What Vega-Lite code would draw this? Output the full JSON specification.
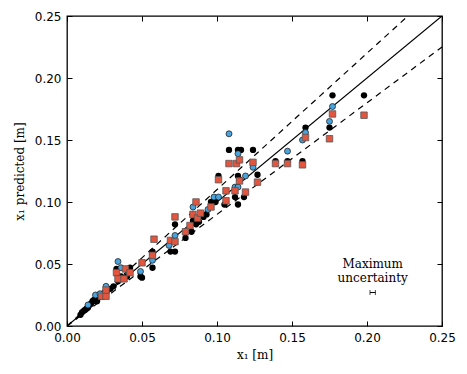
{
  "$schema": "https://vega.github.io/schema/vega-lite/v6.json",
  "width": 375,
  "height": 310,
  "autosize": {"type": "none"},
  "padding": {"left": 67, "top": 16, "right": 25, "bottom": 48},
  "config": {
    "view": {"stroke": "black", "strokeWidth": 1.3},
    "axis": {
      "grid": false,
      "domain": false,
      "labelFlush": false,
      "labelOverlap": false,
      "tickColor": "black",
      "tickSize": -5,
      "tickWidth": 1,
      "labelFont": "DejaVu Sans",
      "labelFontSize": 12,
      "labelColor": "black",
      "labelPadding": 11,
      "titleFont": "DejaVu Serif",
      "titleFontSize": 12,
      "titleFontWeight": "normal",
      "titleColor": "black"
    }
  },
  "datasets": {
    "pts": [
      {"s":"k","x":0.009,"y":0.009},{"s":"k","x":0.010,"y":0.011},{"s":"k","x":0.011,"y":0.012},{"s":"k","x":0.012,"y":0.013},
      {"s":"k","x":0.013,"y":0.014},{"s":"k","x":0.014,"y":0.015},{"s":"k","x":0.015,"y":0.017},{"s":"k","x":0.016,"y":0.018},
      {"s":"k","x":0.017,"y":0.020},{"s":"k","x":0.018,"y":0.021},{"s":"k","x":0.019,"y":0.022},{"s":"k","x":0.020,"y":0.020},
      {"s":"k","x":0.021,"y":0.023},{"s":"k","x":0.022,"y":0.024},{"s":"k","x":0.024,"y":0.025},{"s":"k","x":0.025,"y":0.027},
      {"s":"k","x":0.027,"y":0.029},{"s":"k","x":0.029,"y":0.030},{"s":"k","x":0.031,"y":0.032},{"s":"k","x":0.033,"y":0.046},
      {"s":"k","x":0.034,"y":0.036},{"s":"k","x":0.036,"y":0.040},{"s":"k","x":0.036,"y":0.038},{"s":"k","x":0.040,"y":0.040},
      {"s":"k","x":0.042,"y":0.044},{"s":"k","x":0.042,"y":0.047},{"s":"k","x":0.049,"y":0.040},{"s":"k","x":0.050,"y":0.039},
      {"s":"k","x":0.057,"y":0.060},{"s":"k","x":0.057,"y":0.058},{"s":"k","x":0.057,"y":0.047},{"s":"k","x":0.069,"y":0.060},
      {"s":"k","x":0.072,"y":0.060},{"s":"k","x":0.072,"y":0.082},{"s":"k","x":0.079,"y":0.071},{"s":"k","x":0.083,"y":0.076},
      {"s":"k","x":0.084,"y":0.085},{"s":"k","x":0.086,"y":0.082},{"s":"k","x":0.088,"y":0.084},{"s":"k","x":0.091,"y":0.088},
      {"s":"k","x":0.093,"y":0.090},{"s":"k","x":0.096,"y":0.100},{"s":"k","x":0.099,"y":0.100},{"s":"k","x":0.105,"y":0.098},
      {"s":"k","x":0.101,"y":0.121},{"s":"k","x":0.108,"y":0.142},{"s":"k","x":0.112,"y":0.104},{"s":"k","x":0.114,"y":0.098},
      {"s":"k","x":0.114,"y":0.121},{"s":"k","x":0.114,"y":0.142},{"s":"k","x":0.116,"y":0.142},{"s":"k","x":0.115,"y":0.118},
      {"s":"k","x":0.118,"y":0.104},{"s":"k","x":0.124,"y":0.142},{"s":"k","x":0.127,"y":0.122},{"s":"k","x":0.139,"y":0.133},
      {"s":"k","x":0.147,"y":0.133},{"s":"k","x":0.157,"y":0.133},{"s":"k","x":0.159,"y":0.160},{"s":"k","x":0.175,"y":0.160},
      {"s":"k","x":0.177,"y":0.186},{"s":"k","x":0.198,"y":0.186},
      {"s":"b","x":0.014,"y":0.017},{"s":"b","x":0.019,"y":0.025},{"s":"b","x":0.022,"y":0.026},{"s":"b","x":0.026,"y":0.032},
      {"s":"b","x":0.034,"y":0.052},{"s":"b","x":0.036,"y":0.047},{"s":"b","x":0.049,"y":0.044},{"s":"b","x":0.057,"y":0.053},
      {"s":"b","x":0.068,"y":0.065},{"s":"b","x":0.072,"y":0.073},{"s":"b","x":0.084,"y":0.096},{"s":"b","x":0.094,"y":0.094},
      {"s":"b","x":0.098,"y":0.104},{"s":"b","x":0.101,"y":0.104},{"s":"b","x":0.108,"y":0.155},{"s":"b","x":0.112,"y":0.112},
      {"s":"b","x":0.114,"y":0.112},{"s":"b","x":0.114,"y":0.139},{"s":"b","x":0.119,"y":0.121},{"s":"b","x":0.124,"y":0.128},
      {"s":"b","x":0.147,"y":0.141},{"s":"b","x":0.157,"y":0.150},{"s":"b","x":0.159,"y":0.156},{"s":"b","x":0.175,"y":0.165},
      {"s":"b","x":0.177,"y":0.177},
      {"s":"r","x":0.023,"y":0.024},{"s":"r","x":0.026,"y":0.024},{"s":"r","x":0.026,"y":0.029},{"s":"r","x":0.033,"y":0.043},
      {"s":"r","x":0.034,"y":0.038},{"s":"r","x":0.038,"y":0.038},{"s":"r","x":0.039,"y":0.046},{"s":"r","x":0.042,"y":0.043},
      {"s":"r","x":0.050,"y":0.051},{"s":"r","x":0.057,"y":0.057},{"s":"r","x":0.058,"y":0.070},{"s":"r","x":0.069,"y":0.069},
      {"s":"r","x":0.072,"y":0.068},{"s":"r","x":0.072,"y":0.088},{"s":"r","x":0.079,"y":0.076},{"s":"r","x":0.082,"y":0.081},
      {"s":"r","x":0.084,"y":0.090},{"s":"r","x":0.086,"y":0.100},{"s":"r","x":0.087,"y":0.087},{"s":"r","x":0.089,"y":0.091},
      {"s":"r","x":0.096,"y":0.096},{"s":"r","x":0.101,"y":0.118},{"s":"r","x":0.106,"y":0.101},{"s":"r","x":0.106,"y":0.109},
      {"s":"r","x":0.108,"y":0.131},{"s":"r","x":0.112,"y":0.109},{"s":"r","x":0.113,"y":0.131},{"s":"r","x":0.115,"y":0.134},
      {"s":"r","x":0.115,"y":0.117},{"s":"r","x":0.119,"y":0.108},{"s":"r","x":0.124,"y":0.132},{"s":"r","x":0.127,"y":0.116},
      {"s":"r","x":0.139,"y":0.131},{"s":"r","x":0.147,"y":0.131},{"s":"r","x":0.157,"y":0.130},{"s":"r","x":0.159,"y":0.152},
      {"s":"r","x":0.175,"y":0.151},{"s":"r","x":0.177,"y":0.171},{"s":"r","x":0.198,"y":0.170}
    ],
    "lines": [
      {"line":"ideal","x":0,"y":0},{"line":"ideal","x":0.25,"y":0.25},
      {"line":"upper","x":0,"y":0},{"line":"upper","x":0.22727,"y":0.25},
      {"line":"lower","x":0,"y":0},{"line":"lower","x":0.25,"y":0.225}
    ],
    "note": [
      {"t":"Maximum","x":0.2038,"y":0.0497},
      {"t":"uncertainty","x":0.2038,"y":0.0385}
    ],
    "err": [
      {"x":0.2020,"x2":0.2056,"y":0.027}
    ],
    "caps": [
      {"x":0.2020,"y":0.027},{"x":0.2056,"y":0.027}
    ]
  },
  "resolve": {"axis": {"x": "independent", "y": "independent"}},
  "layer": [
    {
      "data": {"name": "lines"},
      "transform": [{"filter": "datum.line == 'ideal'"}],
      "mark": {"type": "line", "color": "black", "strokeWidth": 1.2, "clip": true},
      "encoding": {
        "x": {"field": "x", "type": "quantitative", "scale": {"domain": [0, 0.25], "nice": false},
          "axis": {"orient": "bottom", "values": [0, 0.05, 0.1, 0.15, 0.2, 0.25], "format": ".2f", "title": "x₁ [m]", "titlePadding": 6}},
        "y": {"field": "y", "type": "quantitative", "scale": {"domain": [0, 0.25], "nice": false},
          "axis": {"orient": "left", "values": [0, 0.05, 0.1, 0.15, 0.2, 0.25], "format": ".2f", "title": "x₁ predicted [m]", "titlePadding": 8}}
      }
    },
    {
      "data": {"name": "lines"},
      "transform": [{"filter": "datum.line != 'ideal'"}],
      "mark": {"type": "line", "color": "black", "strokeWidth": 1.2, "strokeDash": [6, 5], "clip": true},
      "encoding": {
        "detail": {"field": "line"},
        "x": {"field": "x", "type": "quantitative",
          "axis": {"orient": "top", "values": [0, 0.05, 0.1, 0.15, 0.2, 0.25], "labels": false, "title": null}},
        "y": {"field": "y", "type": "quantitative",
          "axis": {"orient": "right", "values": [0, 0.05, 0.1, 0.15, 0.2, 0.25], "labels": false, "title": null}}
      }
    },
    {
      "data": {"name": "pts"},
      "transform": [{"filter": "datum.s == 'k'"}],
      "mark": {"type": "point", "shape": "circle", "filled": true, "color": "black", "size": 40, "opacity": 1},
      "encoding": {
        "x": {"field": "x", "type": "quantitative", "axis": null},
        "y": {"field": "y", "type": "quantitative", "axis": null}
      }
    },
    {
      "data": {"name": "pts"},
      "transform": [{"filter": "datum.s == 'b'"}],
      "mark": {"type": "point", "shape": "circle", "filled": true, "fill": "#4ba3dc", "stroke": "#111111", "strokeWidth": 0.7, "size": 36, "opacity": 1},
      "encoding": {
        "x": {"field": "x", "type": "quantitative", "axis": null},
        "y": {"field": "y", "type": "quantitative", "axis": null}
      }
    },
    {
      "data": {"name": "pts"},
      "transform": [{"filter": "datum.s == 'r'"}],
      "mark": {"type": "point", "shape": "square", "filled": true, "fill": "#e2553e", "stroke": "#555555", "strokeWidth": 0.8, "size": 42, "opacity": 1},
      "encoding": {
        "x": {"field": "x", "type": "quantitative", "axis": null},
        "y": {"field": "y", "type": "quantitative", "axis": null}
      }
    },
    {
      "data": {"name": "note"},
      "mark": {"type": "text", "font": "DejaVu Serif", "fontSize": 12, "color": "black", "align": "center", "baseline": "middle"},
      "encoding": {
        "x": {"field": "x", "type": "quantitative", "axis": null},
        "y": {"field": "y", "type": "quantitative", "axis": null},
        "text": {"field": "t"}
      }
    },
    {
      "data": {"name": "err"},
      "mark": {"type": "rule", "color": "black", "strokeWidth": 1},
      "encoding": {
        "x": {"field": "x", "type": "quantitative", "axis": null},
        "x2": {"field": "x2"},
        "y": {"field": "y", "type": "quantitative", "axis": null}
      }
    },
    {
      "data": {"name": "caps"},
      "mark": {"type": "tick", "orient": "vertical", "color": "black", "size": 5, "thickness": 1},
      "encoding": {
        "x": {"field": "x", "type": "quantitative", "axis": null},
        "y": {"field": "y", "type": "quantitative", "axis": null}
      }
    }
  ]
}
